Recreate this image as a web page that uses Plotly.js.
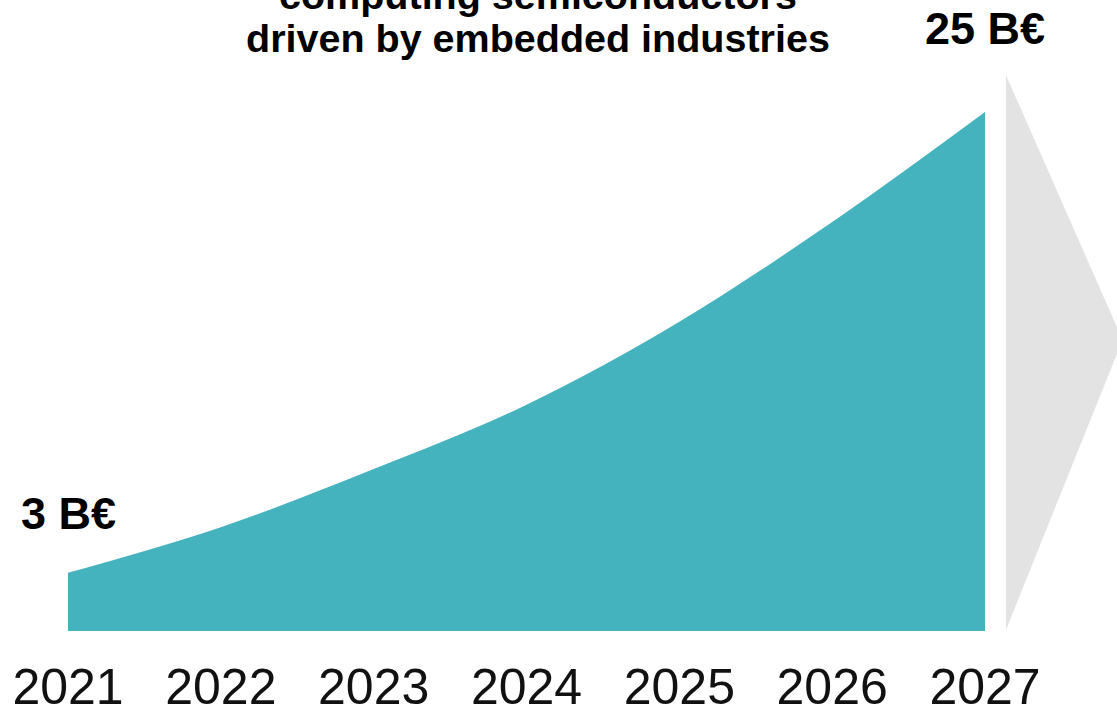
<!DOCTYPE html>
<html>
<head>
<meta charset="utf-8">
<script src="https://cdn.plot.ly/plotly-3.0.1.min.js"></script>
<style>
html, body { margin: 0; padding: 0; background: #ffffff; }
#chart { width: 1117px; height: 711px; }
</style>
</head>
<body>
<div id="chart"></div>
<script>
// Data (billions of euros)
const years = [2021, 2022, 2023, 2024, 2025, 2026, 2027];
const marketValue = [2.8, 5.0, 7.8, 10.9, 14.9, 19.7, 25.0];
const tickLabels = ["2021", "2022", "2023", "2024", "2025", "2026", "2027"];
const startLabel = "3 B€";
const endLabel = "25 B€";
const titleLines = ["computing semiconductors", "driven by embedded industries"];

const FONT = "Liberation Sans, Arial, Helvetica, sans-serif";
const TEAL = "#45B3BE";

const trace = {
  x: years,
  y: marketValue,
  type: "scatter",
  mode: "lines",
  line: { shape: "spline", width: 0, color: TEAL },
  fill: "tozeroy",
  fillcolor: TEAL,
  hoverinfo: "x+y"
};

const layout = {
  width: 1117,
  height: 711,
  margin: { l: 68, r: 132, t: 112, b: 80 },
  paper_bgcolor: "#ffffff",
  plot_bgcolor: "#ffffff",
  showlegend: false,
  xaxis: {
    range: [years[0], years[years.length - 1]],
    tickmode: "array",
    tickvals: years,
    ticktext: tickLabels,
    showgrid: false,
    zeroline: false,
    showline: false,
    ticks: "outside",
    ticklen: 12,
    tickcolor: "rgba(0,0,0,0)",
    tickfont: { family: FONT, size: 50, color: "#111111" },
    fixedrange: true
  },
  yaxis: {
    range: [0, marketValue[marketValue.length - 1]],
    visible: false,
    showgrid: false,
    zeroline: false,
    fixedrange: true
  },
  shapes: [
    {
      type: "path",
      xref: "paper",
      yref: "paper",
      path: "M 1.0229 1.071 L 1.150 0.561 L 1.0229 0.002 Z",
      fillcolor: "#E3E3E3",
      line: { width: 0 },
      layer: "below"
    }
  ],
  annotations: [
    {
      text: "<b>" + titleLines[0] + "</b>",
      xref: "paper", yref: "paper",
      x: (538 - 68) / 917, y: (631 - (-5)) / 519,
      xanchor: "center", yanchor: "middle",
      showarrow: false,
      font: { family: FONT, size: 39.5, color: "#000000" }
    },
    {
      text: "<b>" + titleLines[1] + "</b>",
      xref: "paper", yref: "paper",
      x: (538 - 68) / 917, y: (631 - 38) / 519,
      xanchor: "center", yanchor: "middle",
      showarrow: false,
      font: { family: FONT, size: 39.5, color: "#000000" }
    },
    {
      text: "<b>" + startLabel + "</b>",
      xref: "x", yref: "paper",
      x: years[0], y: (631 - 513) / 519,
      xanchor: "center", yanchor: "middle",
      showarrow: false,
      font: { family: FONT, size: 45, color: "#000000" }
    },
    {
      text: "<b>" + endLabel + "</b>",
      xref: "x", yref: "paper",
      x: years[years.length - 1], y: (631 - 28) / 519,
      xanchor: "center", yanchor: "middle",
      showarrow: false,
      font: { family: FONT, size: 45, color: "#000000" }
    }
  ]
};

Plotly.newPlot("chart", [trace], layout, { displayModeBar: false, staticPlot: true });
</script>
</body>
</html>
